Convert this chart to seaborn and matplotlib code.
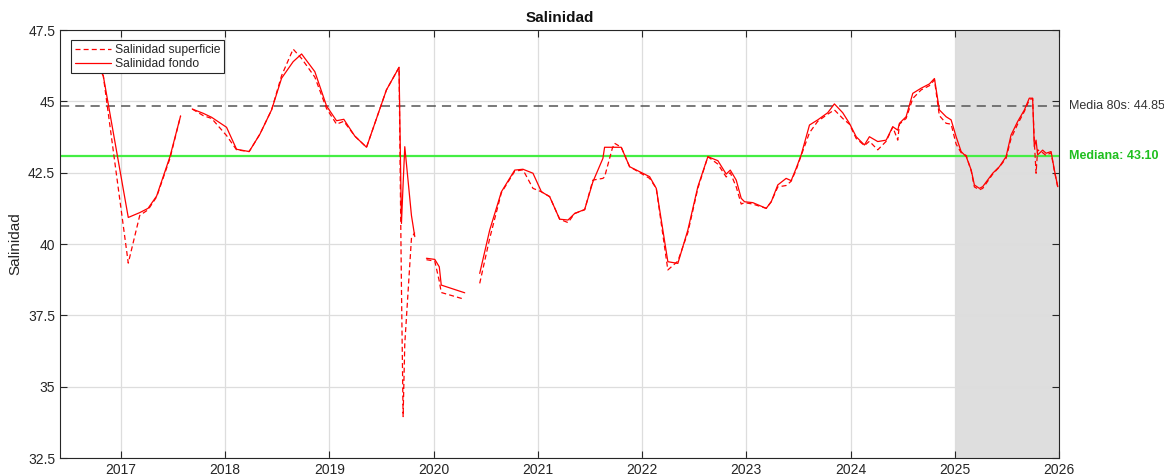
import numpy as np
import pandas as pd
import matplotlib
matplotlib.use("Agg")
import matplotlib.pyplot as plt
import seaborn as sns
from matplotlib.lines import Line2D

# -------------------------
# === Data ================
# -------------------------
# decimal years; NaN rows mark gaps between sampling campaigns
fechas = [
    2016.782, 2016.830, 2017.070, 2017.180, 2017.260, 2017.342, 2017.470, 2017.572, 2017.620,
    2017.684, 2017.789, 2017.870, 2018.013, 2018.109, 2018.230, 2018.333, 2018.445, 2018.541,
    2018.652, 2018.733, 2018.860, 2018.972, 2019.068, 2019.138, 2019.244, 2019.356, 2019.547,
    2019.668, 2019.691, 2019.707, 2019.723, 2019.787, 2019.819, 2019.880,
    2019.931, 2020.011, 2020.054, 2020.073, 2020.298, 2020.350,
    2020.442, 2020.538, 2020.650, 2020.778, 2020.857, 2020.953, 2021.034, 2021.113, 2021.209,
    2021.289, 2021.353, 2021.449, 2021.528, 2021.624, 2021.640, 2021.714, 2021.736, 2021.800,
    2021.880, 2022.072, 2022.136, 2022.247, 2022.343, 2022.439, 2022.535, 2022.631, 2022.727,
    2022.807, 2022.846, 2022.903, 2022.951, 2022.983, 2023.062, 2023.191, 2023.239, 2023.302,
    2023.382, 2023.430, 2023.478, 2023.526, 2023.606, 2023.685, 2023.781, 2023.845, 2023.925,
    2023.989, 2024.054, 2024.133, 2024.181, 2024.261, 2024.342, 2024.405, 2024.453, 2024.469,
    2024.533, 2024.597, 2024.677, 2024.757, 2024.805, 2024.852, 2024.917, 2024.965, 2025.013,
    2025.061, 2025.110, 2025.158, 2025.188, 2025.236, 2025.268, 2025.364, 2025.428, 2025.492,
    2025.540, 2025.603, 2025.668, 2025.715, 2025.747, 2025.763, 2025.780, 2025.795, 2025.843,
    2025.876, 2025.924, 2025.956, 2025.988,
]

sal_fondo = [
    46.20, 45.90, 40.93, 41.10, 41.25, 41.68, 43.06, 44.49, np.nan,
    44.73, 44.58, 44.44, 44.09, 43.32, 43.24, 43.85, 44.70, 45.81,
    46.39, 46.66, 46.04, 44.84, 44.32, 44.37, 43.78, 43.39, 45.40,
    46.19, 40.72, 42.10, 43.41, 41.00, 40.26, np.nan,
    39.50, 39.46, 39.20, 38.56, 38.29, np.nan,
    38.97, 40.49, 41.83, 42.59, 42.62, 42.48, 41.83, 41.66, 40.87,
    40.84, 41.07, 41.21, 42.18, 43.00, 43.39, 43.39, 43.39, 43.39,
    42.71, 42.36, 41.95, 39.38, 39.32, 40.49, 42.01, 43.06, 42.92,
    42.45, 42.59, 42.24, 41.60, 41.48, 41.45, 41.25, 41.48, 42.07,
    42.30, 42.22, 42.65, 43.12, 44.17, 44.35, 44.60, 44.91, 44.60,
    44.23, 43.76, 43.47, 43.76, 43.59, 43.64, 44.11, 43.99, 44.23,
    44.46, 45.28, 45.46, 45.61, 45.80, 44.70, 44.46, 44.35, 43.76,
    43.24, 43.06, 42.59, 42.07, 41.95, 42.01, 42.48, 42.71, 43.06,
    43.82, 44.29, 44.70, 45.11, 45.11, 43.41, 43.64, 43.12, 43.29,
    43.18, 43.24, 42.59, 42.01,
]

sal_superficie = [
    46.20, 45.90, 39.33, 41.00, 41.20, 41.65, 43.00, 44.49, np.nan,
    44.73, 44.50, 44.40, 43.80, 43.30, 43.24, 43.85, 44.70, 45.90,
    46.83, 46.50, 45.85, 44.75, 44.20, 44.30, 43.78, 43.39, 45.40,
    46.19, 38.50, 33.95, 36.50, 40.20, 40.40, np.nan,
    39.45, 39.40, 38.70, 38.30, 38.06, np.nan,
    38.62, 40.20, 41.80, 42.55, 42.60, 41.95, 41.83, 41.66, 40.87,
    40.75, 41.07, 41.20, 42.24, 42.30, 42.35, 43.35, 43.53, 43.39,
    42.71, 42.30, 41.95, 39.09, 39.40, 40.40, 41.95, 43.06, 42.80,
    42.35, 42.50, 42.00, 41.40, 41.45, 41.40, 41.25, 41.48, 42.00,
    42.05, 42.20, 42.60, 43.10, 43.90, 44.30, 44.55, 44.70, 44.40,
    44.20, 43.70, 43.45, 43.60, 43.30, 43.60, 44.10, 43.64, 44.20,
    44.40, 45.10, 45.40, 45.55, 45.75, 44.50, 44.23, 44.20, 43.50,
    43.20, 43.10, 42.55, 42.00, 41.90, 41.95, 42.45, 42.70, 43.00,
    43.70, 44.20, 44.65, 45.05, 45.10, 43.60, 42.48, 43.30, 43.20,
    43.10, 43.20, 42.55, 42.00,
]

MEDIA_80S = 44.85
MEDIANA = 43.10
ANIOS = list(range(2017, 2027))
Y_TICKS = [32.5, 35, 37.5, 40, 42.5, 45, 47.5]

# -------------------------
# === Build long table ====
# -------------------------
def to_long(x, y, nombre):
    d = pd.DataFrame({"fecha": x, "salinidad": y})
    d["tramo"] = d["salinidad"].isna().cumsum()
    d = d.dropna()
    d["serie"] = nombre
    d["unidad"] = nombre + "_" + d["tramo"].astype(str)
    return d

df = pd.concat([
    to_long(fechas, sal_superficie, "Salinidad superficie"),
    to_long(fechas, sal_fondo, "Salinidad fondo"),
], ignore_index=True)

# -------------------------
# === Plot ================
# -------------------------
sns.set_style("white")
plt.rcParams["font.family"] = ["Liberation Sans", "DejaVu Sans"]

fig = plt.figure(figsize=(11.64, 4.76), dpi=100)
ax = fig.add_axes([60 / 1164, 1 - 458 / 476, 999 / 1164, 428 / 476])

# current year shading
ax.axvspan(2025, 2026, color="#dedede", zorder=0, lw=0)

sns.lineplot(
    data=df, x="fecha", y="salinidad", style="serie", units="unidad",
    estimator=None, color="red", linewidth=0.9, sort=False,
    dashes={"Salinidad superficie": (4, 2.5), "Salinidad fondo": ""},
    legend=False, ax=ax, zorder=3,
)

ax.axhline(MEDIA_80S, color="#555555", linestyle=(0, (6, 4)), lw=1.1, zorder=2)
ax.axhline(MEDIANA, color="#44ee44", lw=1.6, zorder=2)

ax.set_xlim(2016.415, 2026)
ax.set_ylim(32.5, 47.5)
ax.set_xticks(ANIOS)
ax.set_xticklabels([str(a) for a in ANIOS])
ax.set_yticks(Y_TICKS)
ax.set_yticklabels(["32.5", "35", "37.5", "40", "42.5", "45", "47.5"])
ax.grid(True, color="#dddddd", lw=0.9)
ax.set_axisbelow(True)

ax.tick_params(direction="in", length=5, width=0.8, colors="#262626",
               labelsize=10, top=True, right=True, bottom=True, left=True)
for s in ax.spines.values():
    s.set_color("#262626")
    s.set_linewidth(0.8)
    s.set_zorder(5)

ax.set_xlabel("")
ax.set_ylabel("Salinidad", fontsize=11, color="#262626")
ax.set_title("Salinidad", fontsize=11, fontweight="bold", color="#111111", pad=6)

ax.text(1.01, MEDIA_80S, f"Media 80s: {MEDIA_80S:.2f}", transform=ax.get_yaxis_transform(),
        va="center", ha="left", fontsize=9, color="#333333")
ax.text(1.01, MEDIANA, f"Mediana: {MEDIANA:.2f}", transform=ax.get_yaxis_transform(),
        va="center", ha="left", fontsize=9, color="#1fbf1f", fontweight="bold")

handles = [
    Line2D([], [], color="red", lw=0.9, dashes=(4, 2.5)),
    Line2D([], [], color="red", lw=0.9),
]
leg = ax.legend(handles, ["Salinidad superficie", "Salinidad fondo"], loc="upper left",
                fontsize=8.7, frameon=True, fancybox=False, framealpha=1,
                borderpad=0.3, handlelength=3.0, handletextpad=0.3,
                labelspacing=0.15, bbox_to_anchor=(0.005, 0.99))
leg.get_frame().set_edgecolor("#262626")
leg.get_frame().set_linewidth(0.8)

fig.savefig("out.png", dpi=100)
